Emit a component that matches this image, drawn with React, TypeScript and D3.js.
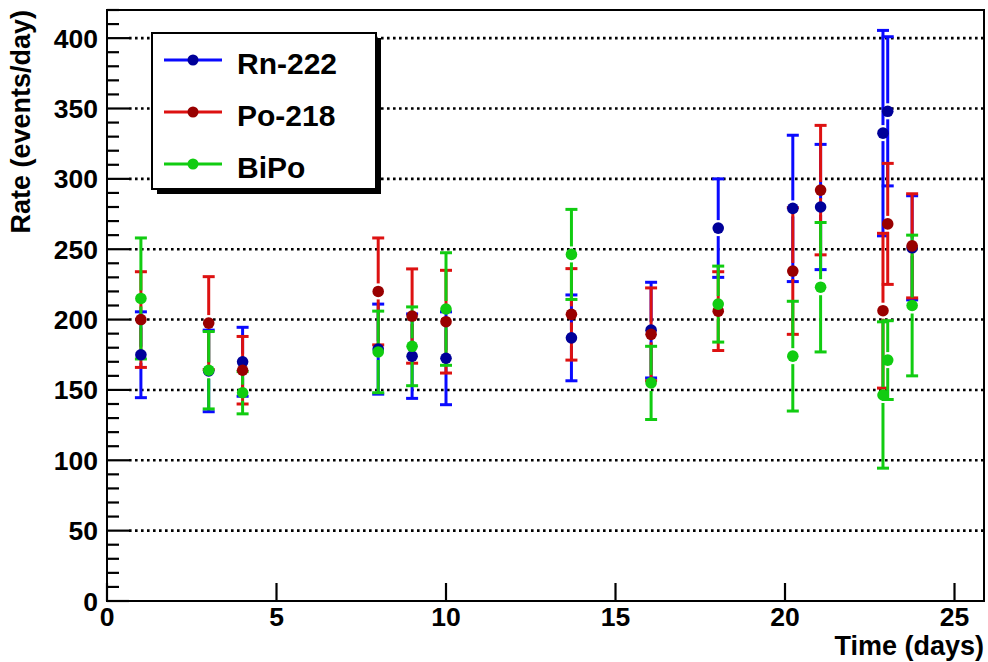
import React from "react";
import * as d3 from "d3";

// Measurement times (days) shared by all three series
const times = [1, 3, 4, 8, 9, 10, 13.7, 16.05, 18.03, 20.23, 21.05, 22.89, 23.03, 23.75];

// Rates (events/day) and their uncertainties
const rnRate = [175, 163.5, 170, 179, 174, 172.5, 187, 192.5, 265, 279, 280, 332.5, 348, 251];
const rnErr = [30.5, 29, 24.5, 32, 30, 33, 30.5, 34, 35, 52, 44.5, 73, 53, 37];

const poRate = [200, 197.5, 164, 220, 202.5, 198.5, 203.7, 189.5, 206, 234.5, 292, 206.3, 268, 252.4];
const poErr = [34, 33, 24, 38, 33.5, 36.5, 32.5, 33, 28, 45, 46, 55, 43, 37];

const biRate = [215, 164, 148, 177, 181, 207.5, 246.3, 155, 211, 174, 223, 146.4, 171.2, 210];
const biErr = [43, 27.5, 15, 29, 28, 40, 32, 26, 27, 39, 46, 52, 28, 50];

const seriesNames = ["Rn-222", "Po-218", "BiPo"];

const xTicks = [0, 5, 10, 15, 20, 25];
const yMajor = [0, 50, 100, 150, 200, 250, 300, 350, 400];

const W = 988;
const H = 662;
const frame = { left: 107, right: 984, top: 10, bottom: 601 };

const FONT = "'Liberation Sans', Arial, Helvetica, sans-serif";

type Series = {
  name: string;
  rate: number[];
  err: number[];
  line: string;
  marker: string;
};

const series: Series[] = [
  { name: seriesNames[0], rate: rnRate, err: rnErr, line: "#0a0aff", marker: "#000099" },
  { name: seriesNames[1], rate: poRate, err: poErr, line: "#dd1111", marker: "#990000" },
  { name: seriesNames[2], rate: biRate, err: biErr, line: "#11cc11", marker: "#11cc11" },
];

export default function App() {
  const x = d3.scaleLinear().domain([0, 25.87]).range([frame.left, frame.right]);
  const y = d3.scaleLinear().domain([0, 420]).range([frame.bottom, frame.top]);

  const yMinor = d3.range(0, 421, 10).filter((v) => v % 50 !== 0);
  const R = 5.8; // marker radius
  const gap = 8; // error bars stop short of the marker
  const cap = 6;

  return (
    <svg
      width={W}
      height={H}
      style={{ position: "absolute", left: 0, top: 0, background: "#fff" }}
      fontFamily={FONT}
    >
      <rect x={0} y={0} width={W} height={H} fill="#fff" />

      {/* horizontal dotted grid */}
      {yMajor
        .filter((v) => v > 0)
        .map((v) => (
          <line
            key={"g" + v}
            x1={frame.left + 22}
            x2={frame.right}
            y1={y(v)}
            y2={y(v)}
            stroke="#000"
            strokeWidth={2.6}
            strokeDasharray="2.6,3.4"
          />
        ))}

      {/* frame */}
      <rect
        x={frame.left}
        y={frame.top}
        width={frame.right - frame.left}
        height={frame.bottom - frame.top}
        fill="none"
        stroke="#000"
        strokeWidth={2}
      />

      {/* y axis ticks */}
      {yMajor.map((v) => (
        <line key={"ym" + v} x1={frame.left} x2={frame.left + 22} y1={y(v)} y2={y(v)} stroke="#000" strokeWidth={2.2} />
      ))}
      {yMinor.map((v) => (
        <line key={"yn" + v} x1={frame.left} x2={frame.left + 12} y1={y(v)} y2={y(v)} stroke="#000" strokeWidth={2.2} />
      ))}
      {yMajor.map((v) => (
        <text
          key={"yl" + v}
          x={98}
          y={y(v) + 9.5}
          textAnchor="end"
          fontSize={26.5}
          fontWeight="bold"
          fill="#000"
        >
          {v}
        </text>
      ))}

      {/* x axis ticks */}
      {xTicks.map((v) => (
        <line key={"xm" + v} x1={x(v)} x2={x(v)} y1={frame.bottom} y2={frame.bottom - 18} stroke="#000" strokeWidth={2.2} />
      ))}
      {xTicks.map((v) => (
        <text key={"xl" + v} x={x(v)} y={626} textAnchor="middle" fontSize={26.5} fontWeight="bold" fill="#000">
          {v}
        </text>
      ))}

      {/* axis titles */}
      <text
        x={frame.right}
        y={655}
        textAnchor="end"
        fontSize={27}
        fontWeight="bold"
        fill="#000"
      >
        Time (days)
      </text>
      <text
        transform={`translate(30, ${frame.top}) rotate(-90)`}
        textAnchor="end"
        fontSize={27}
        fontWeight="bold"
        fill="#000"
      >
        Rate (events/day)
      </text>

      {/* error bars */}
      {series.map((s) =>
        times.map((t, i) => {
          const cx = x(t);
          const cy = y(s.rate[i]);
          const yt = y(s.rate[i] + s.err[i]);
          const yb = y(s.rate[i] - s.err[i]);
          return (
            <g key={s.name + "e" + i} stroke={s.line} strokeWidth={3}>
              {cy - gap > yt && <line x1={cx} x2={cx} y1={yt} y2={cy - gap} />}
              {cy + gap < yb && <line x1={cx} x2={cx} y1={cy + gap} y2={yb} />}
              <line x1={cx - cap} x2={cx + cap} y1={yt} y2={yt} />
              <line x1={cx - cap} x2={cx + cap} y1={yb} y2={yb} />
            </g>
          );
        })
      )}

      {/* markers */}
      {series.map((s) =>
        times.map((t, i) => (
          <circle key={s.name + "m" + i} cx={x(t)} cy={y(s.rate[i])} r={R} fill={s.marker} />
        ))
      )}

      {/* legend */}
      <rect x={157} y={38} width={224} height={156} fill="#000" />
      <rect x={152} y={33} width={224} height={156} fill="#fff" stroke="#000" strokeWidth={2} />
      {series.map((s, i) => {
        const ly = 60 + i * 52;
        return (
          <g key={"lg" + s.name}>
            <line x1={164} x2={222} y1={ly} y2={ly} stroke={s.line} strokeWidth={3} />
            <circle cx={193} cy={ly} r={5.5} fill={s.marker} />
            <text x={237} y={ly + 13.5} fontSize={30} fontWeight="bold" fill="#000">
              {s.name}
            </text>
          </g>
        );
      })}
    </svg>
  );
}
